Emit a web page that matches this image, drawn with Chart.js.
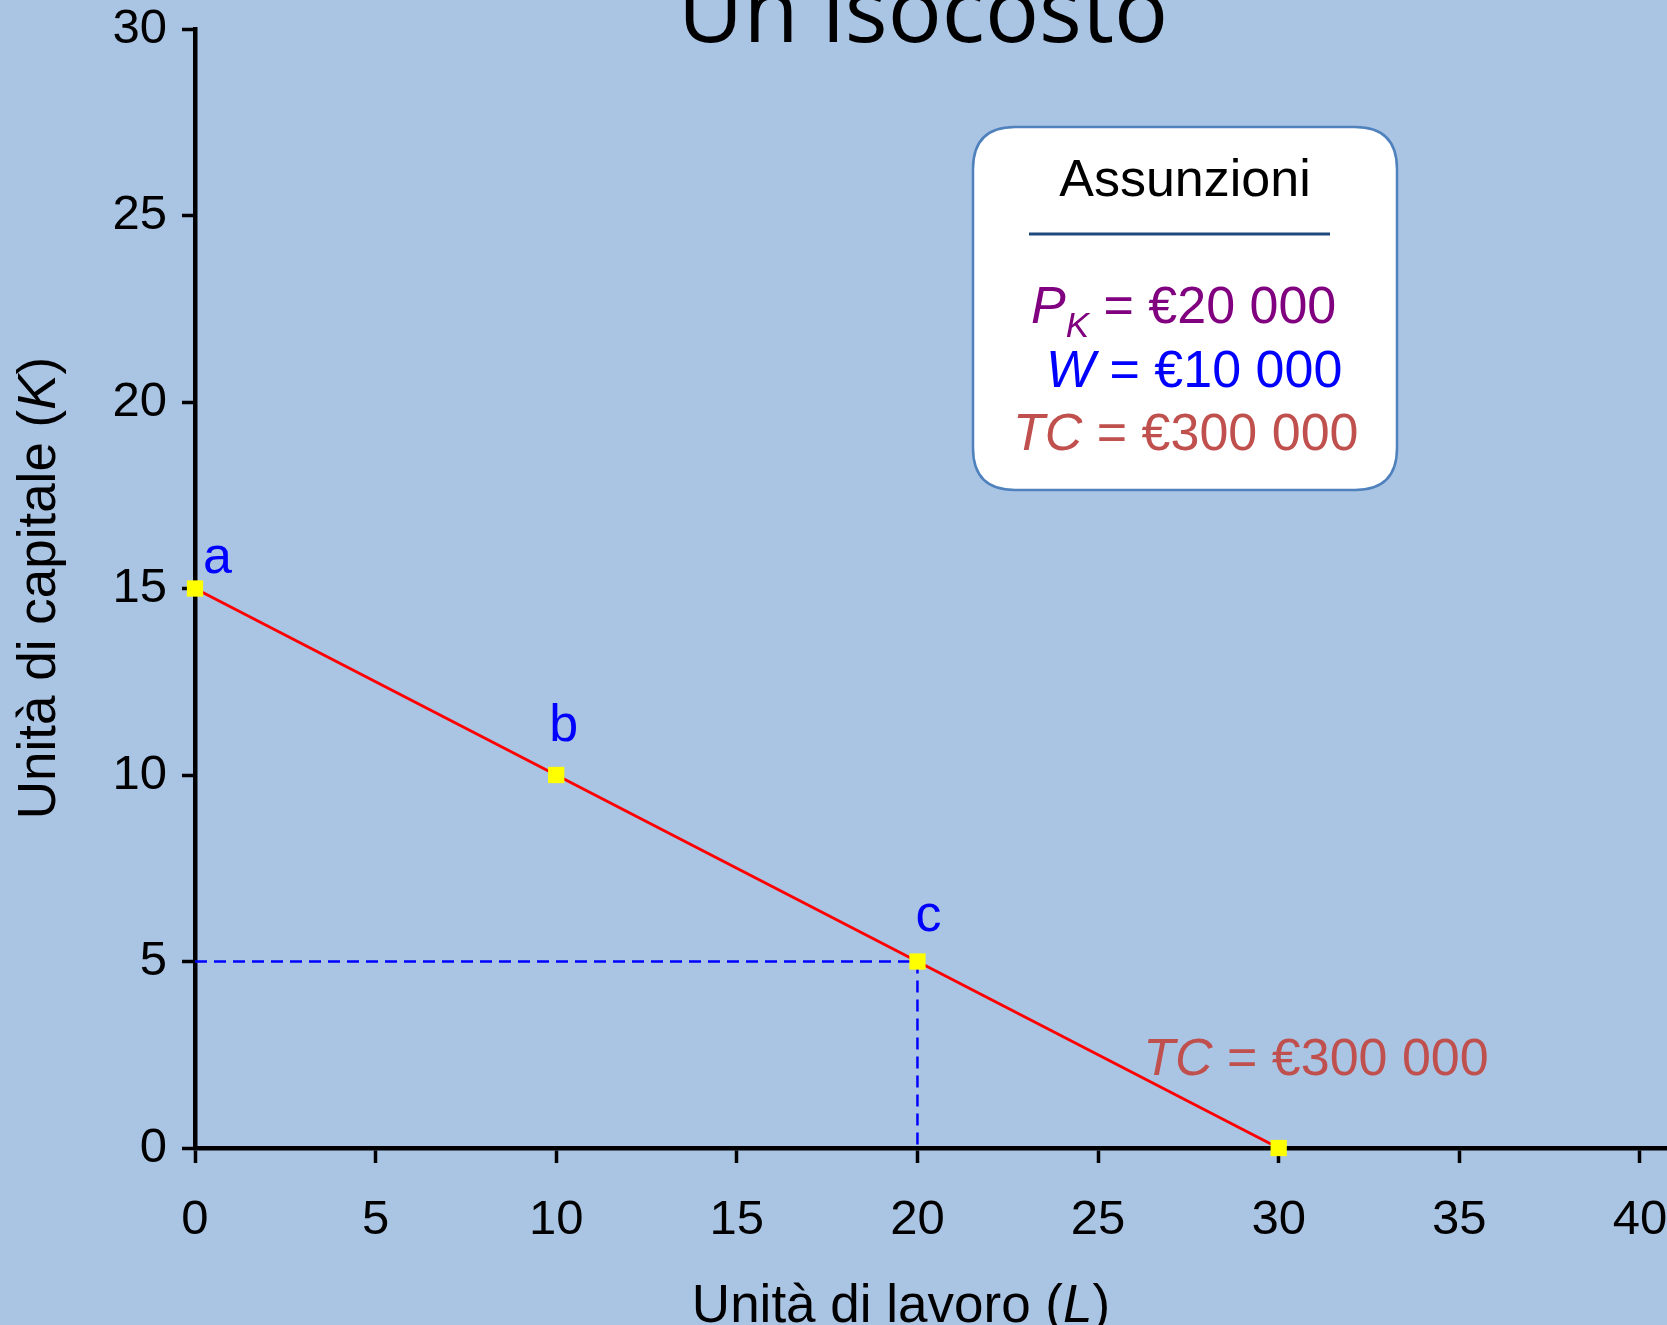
<!DOCTYPE html>
<html lang="it">
<head>
<meta charset="utf-8">
<title>Un isocosto</title>
<script src="https://cdn.jsdelivr.net/npm/chart.js@4.4.0/dist/chart.umd.min.js"></script>
<style>
  html, body { margin: 0; padding: 0; background: #aac4e4; overflow: hidden; }
  #isocostChart { display: block; }
</style>
</head>
<body>
<canvas id="isocostChart" width="1667" height="1325"></canvas>
<script>
// Isocost: combinations of labour (L) and capital (K) that cost TC
let labour = [0, 10, 20, 30];
let capital = [15, 10, 5, 0];
let pointNames = ["a", "b", "c", ""];

// Dashed guides from the axes to point c
let guideH_L = [0, 20];
let guideH_K = [5, 5];
let guideV_L = [20, 20];
let guideV_K = [5, 0];

let xTicks = [0, 5, 10, 15, 20, 25, 30, 35, 40];
let yTicks = [0, 5, 10, 15, 20, 25, 30];

const sans = '"Liberation Sans", Arial, sans-serif';

function toPoints(xs, ys) {
  return xs.map((x, i) => ({ x: x, y: ys[i] }));
}

// Draw a row of text pieces one after another (for italic symbols, subscripts)
function drawRuns(ctx, runs, x, y) {
  let cx = x;
  runs.forEach(function (run) {
    ctx.font = run.font;
    ctx.fillText(run.text, cx, y + (run.dy || 0));
    cx += ctx.measureText(run.text).width;
  });
  return cx - x;
}

function runsWidth(ctx, runs) {
  let w = 0;
  runs.forEach(function (run) {
    ctx.font = run.font;
    w += ctx.measureText(run.text).width;
  });
  return w;
}

function roundRect(ctx, x, y, w, h, r) {
  ctx.beginPath();
  ctx.moveTo(x + r, y);
  ctx.lineTo(x + w - r, y);
  ctx.quadraticCurveTo(x + w, y, x + w, y + r);
  ctx.lineTo(x + w, y + h - r);
  ctx.quadraticCurveTo(x + w, y + h, x + w - r, y + h);
  ctx.lineTo(x + r, y + h);
  ctx.quadraticCurveTo(x, y + h, x, y + h - r);
  ctx.lineTo(x, y + r);
  ctx.quadraticCurveTo(x, y, x + r, y);
  ctx.closePath();
}

// Offsets of the point letters from their marker (text start, baseline)
let nameOffsets = [[8, -16], [-7, -34], [-2, -31], [0, 0]];

// keep the plot area fixed: no extra room for overhanging tick labels
function noScalePadding(axis) {
  axis.paddingTop = 0;
  axis.paddingBottom = 0;
  axis.paddingLeft = 0;
  axis.paddingRight = 0;
}

const decorations = {
  id: "decorations",
  afterDraw: function (chart) {
    let c = chart.ctx;
    let xs = chart.scales.x;
    let ys = chart.scales.y;
    c.save();
    c.textBaseline = "alphabetic";

    // Slide title, partly cut by the top edge
    c.fillStyle = "#000000";
    c.textAlign = "center";
    c.font = '90px "Open Sans", sans-serif';
    c.fillText("Un isocosto", 923, 42);
    c.textAlign = "left";

    // Axis titles with italic symbols
    let xTitle = [
      { text: "Unità di lavoro (", font: "53px " + sans },
      { text: "L", font: "italic 53px " + sans },
      { text: ")", font: "53px " + sans },
    ];
    drawRuns(c, xTitle, 901 - runsWidth(c, xTitle) / 2, 1322);

    let yTitle = [
      { text: "Unità di capitale (", font: "53px " + sans },
      { text: "K", font: "italic 53px " + sans },
      { text: ")", font: "53px " + sans },
    ];
    c.save();
    c.translate(55, 588);
    c.rotate(-Math.PI / 2);
    drawRuns(c, yTitle, -runsWidth(c, yTitle) / 2, 0);
    c.restore();

    // Letters next to the points of the isocost
    c.fillStyle = "#0000ff";
    c.font = "52px " + sans;
    pointNames.forEach(function (name, i) {
      if (!name) return;
      let px = xs.getPixelForValue(labour[i]);
      let py = ys.getPixelForValue(capital[i]);
      c.fillText(name, px + nameOffsets[i][0], py + nameOffsets[i][1]);
    });

    // Label of the line
    c.fillStyle = "#c0504d";
    drawRuns(c, [
      { text: "TC", font: "italic 52px " + sans },
      { text: " = €300 000", font: "52px " + sans },
    ], xs.getPixelForValue(26.25), ys.getPixelForValue(1.95));

    // Assumptions box
    roundRect(c, 973, 127, 424, 363, 42);
    c.fillStyle = "#ffffff";
    c.fill();
    c.lineWidth = 2.5;
    c.strokeStyle = "#4f81bd";
    c.stroke();

    c.fillStyle = "#000000";
    c.textAlign = "center";
    c.font = "52px " + sans;
    c.fillText("Assunzioni", 1185, 196);
    c.textAlign = "left";

    c.beginPath();
    c.moveTo(1029, 234);
    c.lineTo(1330, 234);
    c.lineWidth = 3;
    c.strokeStyle = "#1f497d";
    c.stroke();

    c.fillStyle = "#800080";
    drawRuns(c, [
      { text: "P", font: "italic 52px " + sans },
      { text: "K", font: "italic 35px " + sans, dy: 14 },
      { text: " = €20 000", font: "52px " + sans },
    ], 1031, 323);

    c.fillStyle = "#0000ff";
    drawRuns(c, [
      { text: "W", font: "italic 52px " + sans },
      { text: " = €10 000", font: "52px " + sans },
    ], 1046, 387);

    c.fillStyle = "#c0504d";
    drawRuns(c, [
      { text: "TC", font: "italic 52px " + sans },
      { text: " = €300 000", font: "52px " + sans },
    ], 1013, 450);

    c.restore();
  },
};

let ctx = document.getElementById("isocostChart").getContext("2d");

let myChart = new Chart(ctx, {
  type: "scatter",
  data: {
    datasets: [
      {
        data: toPoints(labour, capital),
        showLine: true,
        borderColor: "#ff0000",
        borderWidth: 3,
        pointStyle: "rect",
        pointRadius: 11.5,
        pointBackgroundColor: "#ffff00",
        pointBorderWidth: 0,
        clip: false,
      },
      {
        data: toPoints(guideH_L, guideH_K),
        showLine: true,
        borderColor: "#0000ff",
        borderWidth: 2.5,
        borderDash: [12, 7],
        pointRadius: 0,
      },
      {
        data: toPoints(guideV_L, guideV_K),
        showLine: true,
        borderColor: "#0000ff",
        borderWidth: 2.5,
        borderDash: [12, 7],
        pointRadius: 0,
      },
    ],
  },
  options: {
    responsive: false,
    animation: false,
    events: [],
    layout: {
      autoPadding: false,
      padding: { top: 29, left: 0, right: 0, bottom: 0 },
    },
    plugins: {
      legend: { display: false },
      tooltip: { enabled: false },
    },
    scales: {
      x: {
        type: "linear",
        min: 0,
        max: 40.75,
        afterBuildTicks: function (axis) {
          axis.ticks = xTicks.map((v) => ({ value: v }));
        },
        afterFit: function (axis) {
          axis.height = 177;
          noScalePadding(axis);
        },
        ticks: {
          color: "#000000",
          padding: 28,
          maxRotation: 0,
          font: { family: sans, size: 49 },
        },
        grid: {
          drawOnChartArea: false,
          tickLength: 15,
          tickWidth: 3.5,
          color: "#000000",
        },
        border: { color: "#000000", width: 4.5 },
      },
      y: {
        type: "linear",
        min: 0,
        max: 30,
        afterBuildTicks: function (axis) {
          axis.ticks = yTicks.map((v) => ({ value: v }));
        },
        afterFit: function (axis) {
          axis.width = 195;
          noScalePadding(axis);
        },
        ticks: {
          color: "#000000",
          padding: 15,
          font: { family: sans, size: 49 },
        },
        grid: {
          drawOnChartArea: false,
          tickLength: 13,
          tickWidth: 3.5,
          color: "#000000",
        },
        border: { color: "#000000", width: 4.5 },
      },
    },
  },
  plugins: [decorations],
});
</script>
</body>
</html>
